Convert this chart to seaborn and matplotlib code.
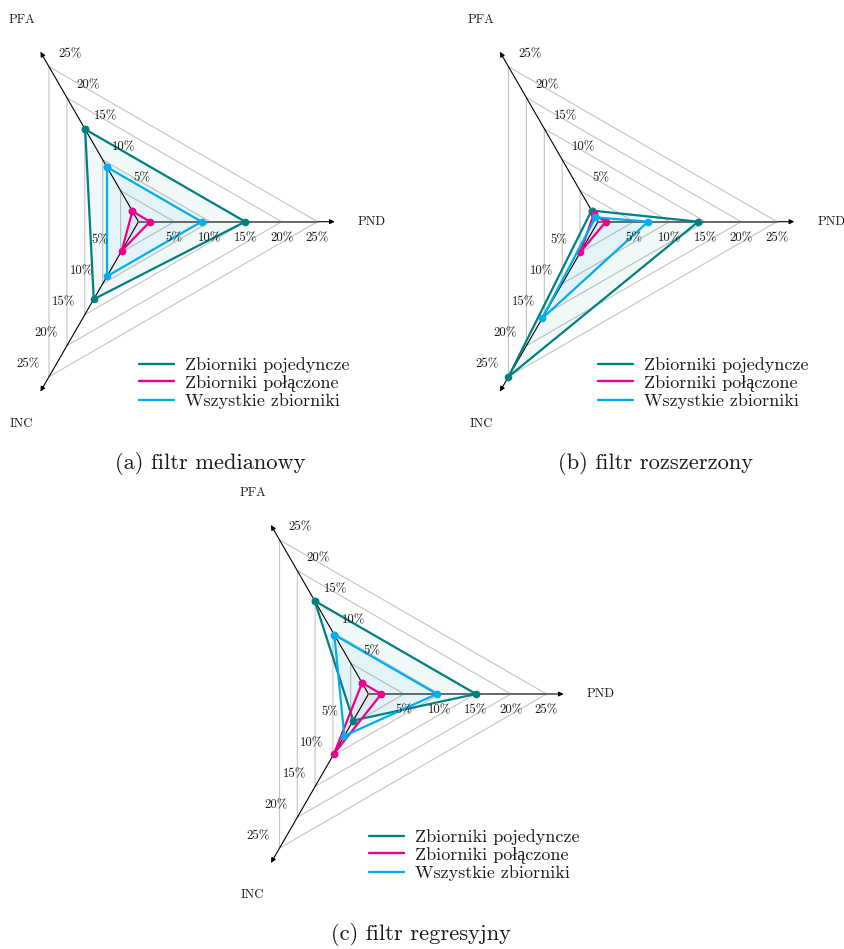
import numpy as np
import pandas as pd
import matplotlib
matplotlib.use("Agg")
import matplotlib.pyplot as plt
from matplotlib.lines import Line2D
import seaborn as sns

# Radar axes (clockwise from upper-left): angle of each axis in degrees
axes_names = ["PFA", "PND", "INC"]
axis_angles_deg = [120, 0, 240]
tick_values = [5, 10, 15, 20, 25]
tick_labels = ["5%", "10%", "15%", "20%", "25%"]

series_names = ["Zbiorniki pojedyncze", "Zbiorniki połączone", "Wszystkie zbiorniki"]
series_colors = ["#008080", "#EC008C", "#00AEEF"]

# Error rates in % for PFA, PND, INC
median_single = [14.9, 14.9, 12.5]
median_joined = [1.7, 1.6, 4.7]
median_all = [8.8, 8.8, 8.8]

extended_single = [1.8, 14.0, 25.0]
extended_joined = [1.2, 1.1, 4.9]
extended_all = [0.7, 7.0, 15.6]

regression_single = [15.1, 15.1, 4.3]
regression_joined = [1.8, 1.8, 9.7]
regression_all = [9.6, 9.6, 6.8]

captions = ["(a) filtr medianowy", "(b) filtr rozszerzony", "(c) filtr regresyjny"]

sns.set_style("white")
plt.rcParams["font.family"] = ["cmr10", "Liberation Serif"]
plt.rcParams["mathtext.fontset"] = "cm"
plt.rcParams["axes.formatter.use_mathtext"] = True

W, H = 845, 949
fig = plt.figure(figsize=(W / 100, H / 100), dpi=100)

GRID = "#c4c4c4"
TEXT = "#1a1a1a"


def make_axes(box, center, scale):
    x0, y0, x1, y1 = box
    cx, cy = center
    ax = fig.add_axes([x0 / W, 1 - y1 / H, (x1 - x0) / W, (y1 - y0) / H])
    ax.set_xlim((x0 - cx) / scale, (x1 - cx) / scale)
    ax.set_ylim((cy - y1) / scale, (cy - y0) / scale)
    ax.axis("off")
    return ax


def draw_panel(ax, series, scale):
    ang = np.deg2rad(axis_angles_deg)
    ux, uy = np.cos(ang), np.sin(ang)

    # triangular grid
    for r in tick_values:
        gx = np.append(r * ux, r * ux[0])
        gy = np.append(r * uy, r * uy[0])
        ax.plot(gx, gy, color=GRID, lw=0.8, zorder=1)

    # filled areas
    for vals, col in zip(series, series_colors):
        v = np.asarray(vals, dtype=float)
        ax.fill(v * ux, v * uy, color=col, alpha=0.055, lw=0, zorder=2)

    # axes with arrow heads
    tip = 27.4
    for k, name in enumerate(axes_names):
        ax.annotate("", xy=(tip * ux[k], tip * uy[k]), xytext=(0, 0),
                    arrowprops=dict(arrowstyle="-|>", color="black", lw=0.8,
                                    mutation_scale=7, shrinkA=0, shrinkB=0),
                    zorder=3)
    k_pnd = axes_names.index("PND")
    ax.plot([0, 25 * ux[k_pnd]], [0, 25 * uy[k_pnd]], color="#6a6a6a",
            lw=1.4, zorder=3)

    # data polygons
    for vals, col in zip(series, series_colors):
        v = np.asarray(vals, dtype=float)
        df = pd.DataFrame({"x": np.append(v * ux, v[0] * ux[0]),
                           "y": np.append(v * uy, v[0] * uy[0])})
        sns.lineplot(data=df, x="x", y="y", sort=False, estimator=None,
                     color=col, lw=1.6, marker="o", markersize=5.5,
                     markeredgewidth=0, ax=ax, zorder=4, legend=False)

    # tick labels, offset to the clockwise side of each axis
    for k in range(3):
        d = 2.3 if axes_names[k] == "PND" else 3.4
        px, py = uy[k], -ux[k]
        for r, lab in zip(tick_values, tick_labels):
            ax.text(r * ux[k] + d * px, r * uy[k] + d * py, lab,
                    ha="center", va="center", fontsize=9.2, color=TEXT,
                    zorder=5)

    # axis names
    for k, name in enumerate(axes_names):
        ax.text(32.6 * ux[k], 32.6 * uy[k], name, ha="center", va="center",
                fontsize=9.2, color=TEXT)

    ax.set_xlabel("")
    ax.set_ylabel("")


def add_legend(ax, anchor_px, box):
    x0, y0, x1, y1 = box
    ax_x = (anchor_px[0] - x0) / (x1 - x0)
    ax_y = (y1 - anchor_px[1]) / (y1 - y0)
    handles = [Line2D([0], [0], color=c, lw=1.7) for c in series_colors]
    leg = ax.legend(handles, series_names, loc="upper left",
                    bbox_to_anchor=(ax_x, ax_y), frameon=False, fontsize=13,
                    handlelength=1.95, handletextpad=0.6, labelspacing=0.1,
                    borderpad=0, borderaxespad=0)
    for t in leg.get_texts():
        t.set_color(TEXT)


panels = [
    dict(box=(0, 0, 422, 445), center=(138.5, 221.7), scale=7.16,
         series=[median_single, median_joined, median_all],
         legend=(139, 357), caption=(210, 463)),
    dict(box=(422, 0, 845, 445), center=(598.0, 221.7), scale=7.16,
         series=[extended_single, extended_joined, extended_all],
         legend=(598, 357), caption=(656, 463)),
    dict(box=(200, 470, 640, 905), center=(368.5, 694.0), scale=7.12,
         series=[regression_single, regression_joined, regression_all],
         legend=(369, 829), caption=(421, 935)),
]

for p, cap in zip(panels, captions):
    ax = make_axes(p["box"], p["center"], p["scale"])
    draw_panel(ax, p["series"], p["scale"])
    add_legend(ax, p["legend"], p["box"])
    fig.text(p["caption"][0] / W, 1 - p["caption"][1] / H, cap,
             ha="center", va="center", fontsize=16.2, color=TEXT)

fig.savefig("out.png", dpi=100, facecolor="white")
